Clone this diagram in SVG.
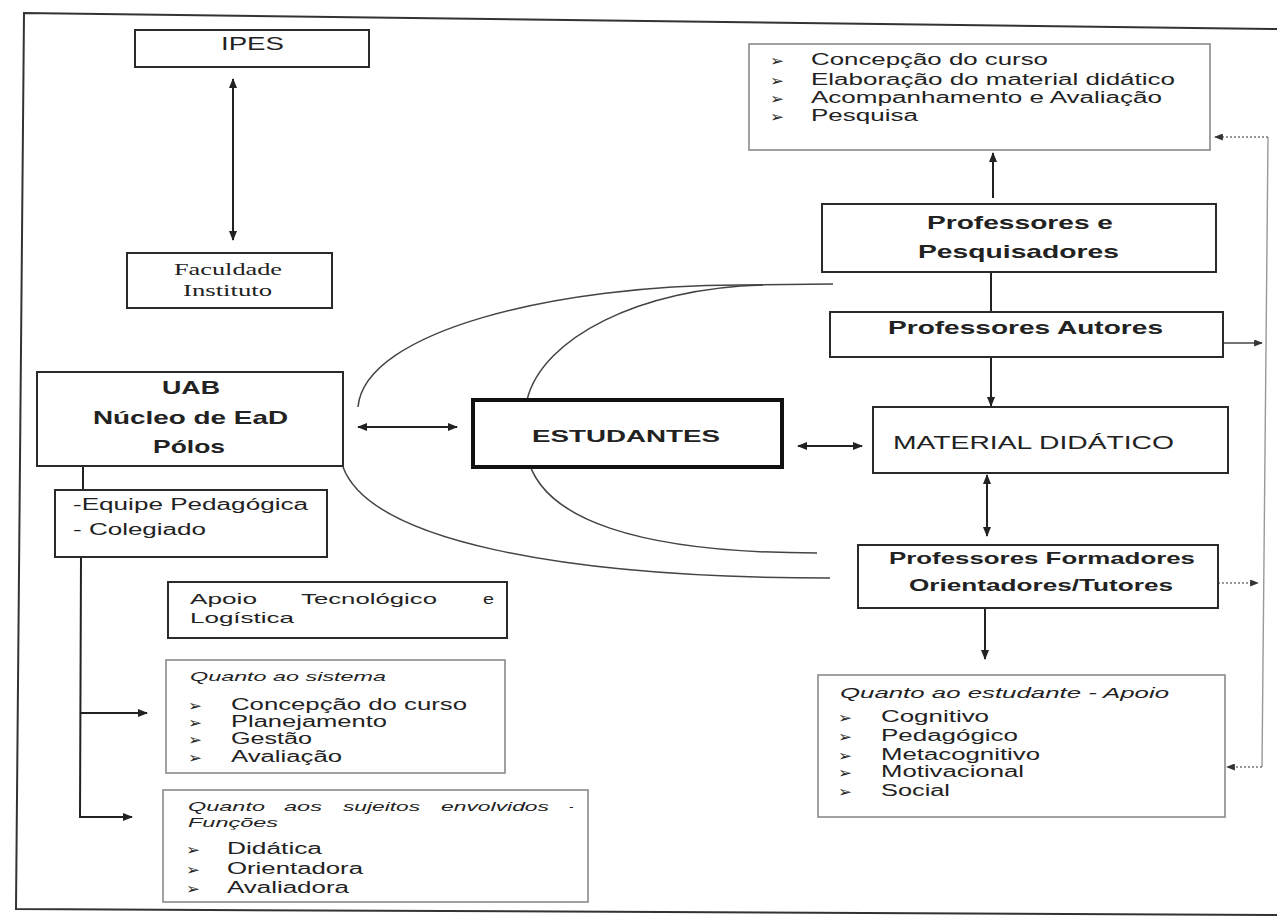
<svg xmlns="http://www.w3.org/2000/svg" width="1277" height="920" viewBox="0 0 1277 920">
<style>
.bx{fill:#fff;stroke:#2a2a2a;stroke-width:2}
.gb{fill:#fff;stroke:#8a8a8a;stroke-width:1.6}
.th{fill:#fff;stroke:#111;stroke-width:4}
.ln{fill:none;stroke:#222;stroke-width:2}
.lt{fill:none;stroke:#444;stroke-width:1.3}
.gl{fill:none;stroke:#999;stroke-width:1.4}
.dt{fill:none;stroke:#777;stroke-width:1.4;stroke-dasharray:2 2}
.cv{fill:none;stroke:#444;stroke-width:1.5}
text{font-family:"Liberation Sans",Arial,sans-serif;fill:#222}
.b{font-weight:bold}
.i{font-style:italic}
.sr{font-family:"Liberation Serif","Times New Roman",serif}
text.bul{font-family:"DejaVu Sans",sans-serif;font-size:15px}
</style>
<defs>
<marker id="ah" viewBox="0 0 10 8" refX="9" refY="4" markerWidth="10" markerHeight="8" markerUnits="userSpaceOnUse" orient="auto-start-reverse"><path d="M0,0 L10,4 L0,8 z" fill="#222"/></marker>
<marker id="ahg" viewBox="0 0 10 8" refX="9" refY="4" markerWidth="10" markerHeight="7" markerUnits="userSpaceOnUse" orient="auto-start-reverse"><path d="M0,0 L10,4 L0,8 z" fill="#333"/></marker>
</defs>
<rect width="1277" height="920" fill="#fff"/>
<path d="M1277,29 L24,13 L16,909 L1277,915" fill="none" stroke="#333" stroke-width="2"/>

<g id="connectors">
<line class="ln" x1="233" y1="79" x2="233" y2="240" marker-start="url(#ah)" marker-end="url(#ah)"/>
<line class="ln" x1="358" y1="427" x2="457" y2="427" stroke-width="2.5" marker-start="url(#ah)" marker-end="url(#ah)"/>
<line class="ln" x1="798" y1="446" x2="862" y2="446" stroke-width="2.5" marker-start="url(#ah)" marker-end="url(#ah)"/>
<line class="ln" x1="987" y1="475" x2="987" y2="536" stroke-width="2.5" marker-start="url(#ah)" marker-end="url(#ah)"/>
<line class="ln" x1="985" y1="609" x2="985" y2="659" marker-end="url(#ah)"/>
<line class="ln" x1="991" y1="357" x2="991" y2="406" stroke-width="3" marker-end="url(#ah)"/>
<line class="ln" x1="991" y1="272" x2="991" y2="312" stroke-width="1.5"/>
<line class="ln" x1="993" y1="198" x2="993" y2="153" stroke-width="1.8" marker-end="url(#ah)"/>
<line class="ln" x1="83" y1="466" x2="83" y2="490"/>
<path class="ln" d="M81,557 L80,817 L132,817" marker-end="url(#ah)"/>
<line class="ln" x1="81" y1="713" x2="147" y2="713" marker-end="url(#ah)"/>
<line class="lt" x1="1223" y1="343" x2="1262" y2="343" marker-end="url(#ahg)"/>
<line class="dt" x1="1218" y1="583" x2="1258" y2="583" marker-end="url(#ahg)"/>
<path class="gl" d="M1268,137 L1262,767"/>
<line class="dt" x1="1268" y1="137" x2="1215" y2="137" marker-end="url(#ahg)"/>
<line class="dt" x1="1262" y1="767" x2="1227" y2="767" marker-end="url(#ahg)"/>
<path class="cv" d="M358,407 C365,330 560,285 740,285 L833,284"/>
<path class="cv" d="M527,400 C542,338 640,288 763,285"/>
<path class="cv" d="M343,467 C370,540 560,578 830,578"/>
<path class="cv" d="M527,455 C540,520 640,553 817,553"/>
</g>

<g id="ipes">
<rect class="bx" x="135" y="30" width="234" height="37"/>
<text x="221" y="50" font-size="19" textLength="63" lengthAdjust="spacingAndGlyphs">IPES</text>
</g>

<g id="faculdade">
<rect class="bx" x="127" y="253" width="205" height="55"/>
<text class="sr" x="174" y="275" font-size="16" textLength="108" lengthAdjust="spacingAndGlyphs">Faculdade</text>
<text class="sr" x="183" y="296" font-size="16" textLength="89" lengthAdjust="spacingAndGlyphs">Instituto</text>
</g>

<g id="uab">
<rect class="bx" x="37" y="372" width="306" height="94"/>
<text class="b" x="162" y="394" font-size="19" textLength="58" lengthAdjust="spacingAndGlyphs">UAB</text>
<text class="b" x="93" y="424" font-size="19" textLength="195" lengthAdjust="spacingAndGlyphs">Núcleo de EaD</text>
<text class="b" x="153" y="453" font-size="19" textLength="72" lengthAdjust="spacingAndGlyphs">Pólos</text>
</g>

<g id="equipe">
<rect class="bx" x="55" y="490" width="272" height="67"/>
<text x="73" y="510" font-size="16" textLength="235" lengthAdjust="spacingAndGlyphs">-Equipe Pedagógica</text>
<text x="73" y="535" font-size="16" textLength="133" lengthAdjust="spacingAndGlyphs">- Colegiado</text>
</g>

<g id="apoio">
<rect class="bx" x="168" y="582" width="339" height="56"/>
<text x="190" y="604" font-size="15" textLength="67" lengthAdjust="spacingAndGlyphs">Apoio</text>
<text x="301" y="604" font-size="15" textLength="136" lengthAdjust="spacingAndGlyphs">Tecnológico</text>
<text x="483" y="604" font-size="15" textLength="11" lengthAdjust="spacingAndGlyphs">e</text>
<text x="190" y="623" font-size="15" textLength="104" lengthAdjust="spacingAndGlyphs">Logística</text>
</g>

<g id="sistema">
<rect class="gb" x="166" y="660" width="339" height="113"/>
<text class="i" x="190" y="681" font-size="13" textLength="196" lengthAdjust="spacingAndGlyphs">Quanto ao sistema</text>
<text class="bul" x="188" y="711" textLength="14" lengthAdjust="spacingAndGlyphs">➢</text>
<text class="bul" x="188" y="728" textLength="14" lengthAdjust="spacingAndGlyphs">➢</text>
<text class="bul" x="188" y="745" textLength="14" lengthAdjust="spacingAndGlyphs">➢</text>
<text class="bul" x="188" y="763" textLength="14" lengthAdjust="spacingAndGlyphs">➢</text>
<text x="231" y="710" font-size="16" textLength="236" lengthAdjust="spacingAndGlyphs">Concepção do curso</text>
<text x="231" y="727" font-size="16" textLength="156" lengthAdjust="spacingAndGlyphs">Planejamento</text>
<text x="231" y="744" font-size="16" textLength="81" lengthAdjust="spacingAndGlyphs">Gestão</text>
<text x="231" y="762" font-size="16" textLength="111" lengthAdjust="spacingAndGlyphs">Avaliação</text>
</g>

<g id="sujeitos">
<rect class="gb" x="163" y="790" width="425" height="112"/>
<text class="i" x="188" y="811" font-size="13" textLength="77" lengthAdjust="spacingAndGlyphs">Quanto</text>
<text class="i" x="284" y="811" font-size="13" textLength="38" lengthAdjust="spacingAndGlyphs">aos</text>
<text class="i" x="343" y="811" font-size="13" textLength="77" lengthAdjust="spacingAndGlyphs">sujeitos</text>
<text class="i" x="441" y="811" font-size="13" textLength="108" lengthAdjust="spacingAndGlyphs">envolvidos</text>
<text class="i" x="569" y="811" font-size="13">-</text>
<text class="i" x="188" y="827" font-size="13" textLength="90" lengthAdjust="spacingAndGlyphs">Funções</text>
<text class="bul" x="186" y="855" textLength="14" lengthAdjust="spacingAndGlyphs">➢</text>
<text class="bul" x="186" y="875" textLength="14" lengthAdjust="spacingAndGlyphs">➢</text>
<text class="bul" x="186" y="894" textLength="14" lengthAdjust="spacingAndGlyphs">➢</text>
<text x="227" y="854" font-size="16" textLength="95" lengthAdjust="spacingAndGlyphs">Didática</text>
<text x="227" y="874" font-size="16" textLength="136" lengthAdjust="spacingAndGlyphs">Orientadora</text>
<text x="227" y="893" font-size="16" textLength="122" lengthAdjust="spacingAndGlyphs">Avaliadora</text>
</g>

<g id="estudantes">
<rect class="th" x="473" y="400" width="309" height="67"/>
<text class="b" x="532" y="442" font-size="17" textLength="188" lengthAdjust="spacingAndGlyphs">ESTUDANTES</text>
</g>

<g id="atividades">
<rect class="gb" x="749" y="44" width="461" height="106"/>
<text class="bul" x="770" y="66" textLength="14" lengthAdjust="spacingAndGlyphs">➢</text>
<text class="bul" x="770" y="86" textLength="14" lengthAdjust="spacingAndGlyphs">➢</text>
<text class="bul" x="770" y="104" textLength="14" lengthAdjust="spacingAndGlyphs">➢</text>
<text class="bul" x="770" y="122" textLength="14" lengthAdjust="spacingAndGlyphs">➢</text>
<text x="811" y="65" font-size="16" textLength="237" lengthAdjust="spacingAndGlyphs">Concepção do curso</text>
<text x="811" y="85" font-size="16" textLength="364" lengthAdjust="spacingAndGlyphs">Elaboração do material didático</text>
<text x="811" y="103" font-size="16" textLength="351" lengthAdjust="spacingAndGlyphs">Acompanhamento e Avaliação</text>
<text x="811" y="121" font-size="16" textLength="107" lengthAdjust="spacingAndGlyphs">Pesquisa</text>
</g>

<g id="pesquisadores">
<rect class="bx" x="822" y="204" width="394" height="68"/>
<text class="b" x="927" y="229" font-size="19" textLength="186" lengthAdjust="spacingAndGlyphs">Professores e</text>
<text class="b" x="918" y="258" font-size="19" textLength="201" lengthAdjust="spacingAndGlyphs">Pesquisadores</text>
</g>

<g id="autores">
<rect class="bx" x="830" y="312" width="393" height="45"/>
<text class="b" x="888" y="334" font-size="19" textLength="275" lengthAdjust="spacingAndGlyphs">Professores Autores</text>
</g>

<g id="material">
<rect class="bx" x="873" y="407" width="355" height="66"/>
<text x="893" y="449" font-size="18" textLength="281" lengthAdjust="spacingAndGlyphs">MATERIAL DIDÁTICO</text>
</g>

<g id="formadores">
<rect class="bx" x="858" y="545" width="360" height="63"/>
<text class="b" x="889" y="564" font-size="17" textLength="306" lengthAdjust="spacingAndGlyphs">Professores Formadores</text>
<text class="b" x="909" y="591" font-size="17" textLength="264" lengthAdjust="spacingAndGlyphs">Orientadores/Tutores</text>
</g>

<g id="apoio-estudante">
<rect class="gb" x="818" y="675" width="407" height="142"/>
<text class="i" x="840" y="698" font-size="14" textLength="329" lengthAdjust="spacingAndGlyphs">Quanto ao estudante - Apoio</text>
<text class="bul" x="838" y="723" textLength="14" lengthAdjust="spacingAndGlyphs">➢</text>
<text class="bul" x="838" y="742" textLength="14" lengthAdjust="spacingAndGlyphs">➢</text>
<text class="bul" x="838" y="761" textLength="14" lengthAdjust="spacingAndGlyphs">➢</text>
<text class="bul" x="838" y="778" textLength="14" lengthAdjust="spacingAndGlyphs">➢</text>
<text class="bul" x="838" y="797" textLength="14" lengthAdjust="spacingAndGlyphs">➢</text>
<text x="881" y="722" font-size="16" textLength="108" lengthAdjust="spacingAndGlyphs">Cognitivo</text>
<text x="881" y="741" font-size="16" textLength="137" lengthAdjust="spacingAndGlyphs">Pedagógico</text>
<text x="881" y="760" font-size="16" textLength="159" lengthAdjust="spacingAndGlyphs">Metacognitivo</text>
<text x="881" y="777" font-size="16" textLength="143" lengthAdjust="spacingAndGlyphs">Motivacional</text>
<text x="881" y="796" font-size="16" textLength="69" lengthAdjust="spacingAndGlyphs">Social</text>
</g>
</svg>
